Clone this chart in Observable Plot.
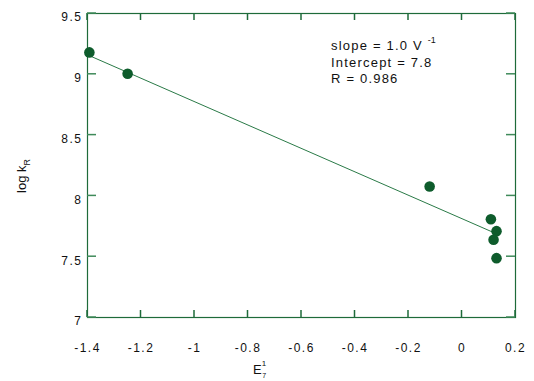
<!DOCTYPE html>
<html>
<head>
<meta charset="utf-8">
<script src="https://cdn.jsdelivr.net/npm/d3@7"></script>
<script src="https://cdn.jsdelivr.net/npm/@observablehq/plot@0.6"></script>
<style>
  html, body { margin: 0; padding: 0; background: #fff; }
</style>
</head>
<body>
<div id="chart"></div>
<script>
// Data
const potentialX = [-1.393, -1.25, -0.121, 0.108, 0.129, 0.118, 0.129];
const logKR = [9.18, 9.005, 8.077, 7.808, 7.71, 7.639, 7.488];
// fitted line endpoints
const fitX = [-1.4, 0.12];
const fitY = [9.16, 7.697];
const xTicks = [-1.4, -1.2, -1, -0.8, -0.6, -0.4, -0.2, 0, 0.2];
const yTicks = [7, 7.5, 8, 8.5, 9, 9.5];
const annotation = ["slope = 1.0 V ", "Intercept = 7.8", "R = 0.986"];

const points = potentialX.map((x, i) => ({x, y: logKR[i]}));
const fit = fitX.map((x, i) => ({x, y: fitY[i]}));

const green = "#1e6b3a";
const tickGreen = "#3f8a5a";
const fmt = d => String(d);
const FONT = "Liberation Sans, Arial, sans-serif";

const plot = Plot.plot({
  width: 534,
  height: 381,
  marginLeft: 87,
  marginRight: 19,
  marginTop: 13,
  marginBottom: 64,
  style: {fontFamily: FONT, fontSize: "12px", background: "#fff"},
  x: {domain: [-1.4, 0.2], label: null},
  y: {domain: [7, 9.5], label: null},
  marks: [
    Plot.axisX(xTicks, {anchor: "bottom", tickSize: 0, tickPadding: 26, fontSize: 12, tickFormat: fmt, fill: "#111"}),
    Plot.axisY(yTicks, {anchor: "left", tickSize: 0, tickPadding: 5, dy: 4, fontSize: 12, tickFormat: fmt, fill: "#111"}),
    Plot.line(fit, {x: "x", y: "y", stroke: "#2a7a47", strokeWidth: 1}),
    Plot.frame({stroke: green, strokeWidth: 1.2}),
    Plot.dot(points, {x: "x", y: "y", r: 5.3, fill: "#0e5c2c", stroke: "none"})
  ]
});
document.getElementById("chart").appendChild(plot);

const svg = d3.select(plot);
svg.selectAll("text").attr("letter-spacing", "1.5px");

// inward tick marks on all four sides, positioned via the plot's own scales
const xs = plot.scale("x");
const ys = plot.scale("y");
const xr = xs.range, yr = ys.range;
const xLeft = xr[0], xRight = xr[1], yBottom = yr[0], yTop = yr[1];
const tickG = svg.append("g");
xTicks.forEach(t => {
  const px = xs.apply(t);
  tickG.append("line").attr("x1", px).attr("x2", px).attr("y1", yBottom).attr("y2", yBottom - 7)
    .attr("stroke", green).attr("stroke-width", 1.5);
  tickG.append("line").attr("x1", px).attr("x2", px).attr("y1", yTop).attr("y2", yTop + 7)
    .attr("stroke", green).attr("stroke-width", 1.5);
});
yTicks.forEach(t => {
  const py = ys.apply(t);
  tickG.append("line").attr("x1", xLeft).attr("x2", xLeft + 9).attr("y1", py).attr("y2", py)
    .attr("stroke", tickGreen).attr("stroke-width", 1.5);
  tickG.append("line").attr("x1", xRight).attr("x2", xRight - 9).attr("y1", py).attr("y2", py)
    .attr("stroke", tickGreen).attr("stroke-width", 1.5);
});

// annotation block
const ann = svg.append("text")
  .attr("font-family", FONT).attr("font-size", 13).attr("fill", "#111").attr("text-anchor", "start")
  .attr("letter-spacing", "1.2px");
annotation.forEach((t, i) => {
  ann.append("tspan").attr("x", 331).attr("y", 50 + i * 16.5).text(t);
  if (i === 0) {
    ann.append("tspan").attr("font-size", 9).attr("dy", -7).attr("letter-spacing", "0px").text("-1");
  }
});

// y label
const yl = svg.append("text")
  .attr("transform", "translate(26,176) rotate(-90)")
  .attr("font-family", FONT).attr("text-anchor", "middle").attr("font-size", 13).attr("fill", "#111");
yl.append("tspan").text("log k");
yl.append("tspan").attr("font-size", 9).attr("dy", 4).text("R");

// x label
const xl = svg.append("text").attr("x", 253).attr("y", 374)
  .attr("font-family", FONT).attr("font-size", 13).attr("fill", "#111").attr("text-anchor", "start");
xl.append("tspan").text("E");
xl.append("tspan").attr("font-size", 8).attr("dy", -8).text("1");
xl.append("tspan").attr("font-size", 7).attr("dx", -4).attr("dy", 12).text("7");
</script>
</body>
</html>
